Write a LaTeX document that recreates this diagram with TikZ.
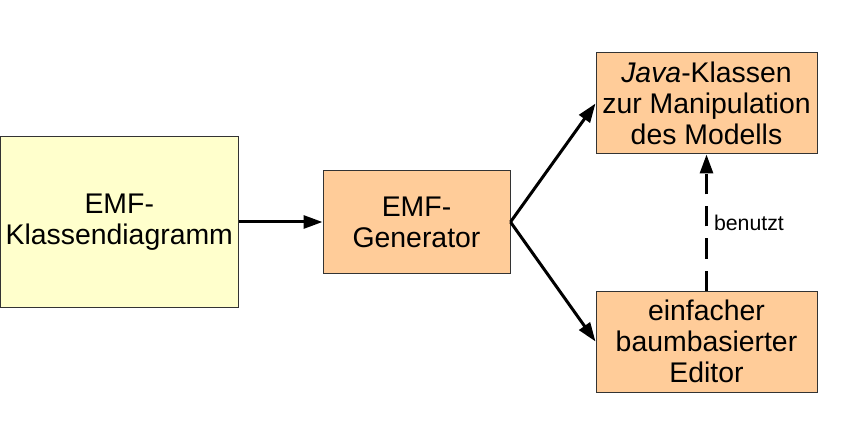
\documentclass[tikz,border=0pt]{standalone}
\usepackage{fontspec}
\setmainfont{Liberation Sans}
\usetikzlibrary{arrows.meta}
\definecolor{boxyellow}{HTML}{FFFFCC}
\definecolor{boxorange}{HTML}{FFCC99}
\definecolor{boxline}{HTML}{333333}
\begin{document}
\begin{tikzpicture}[x=1pt,y=-1pt,
  box/.style={draw=boxline,line width=1pt,inner sep=0pt,align=center,
    font=\fontsize{28.4}{31}\selectfont},
  conn/.style={line width=3pt,-{Triangle[length=19pt,width=13pt]}},
  lbl/.style={font=\fontsize{21.3}{24}\selectfont,inner sep=0pt}]
\useasboundingbox (0,0) rectangle (846,422);
\node[box,fill=boxyellow,minimum width=237.5pt,minimum height=170pt] (b1) at (119.25,222) {EMF-\\Klassendiagramm};
\node[box,fill=boxorange,minimum width=187pt,minimum height=102pt] (b2) at (416.5,222) {EMF-\\Generator};
\node[box,fill=boxorange,minimum width=221pt,minimum height=101pt] (b3) at (706.5,103.5) {\textit{Java}-Klassen\\zur Manipulation\\des Modells};
\node[box,fill=boxorange,minimum width=221pt,minimum height=101pt] (b4) at (706.5,341.5) {einfacher\\baumbasierter\\Editor};
\draw[conn] (b1.east) -- (b2.west);
\draw[conn] (b2.east) -- (b3.west);
\draw[conn] (b2.east) -- (b4.west);
\draw[conn,dash pattern=on 20pt off 12pt] (b4.north) -- node[lbl,anchor=west,xshift=6pt] (lab) {benutzt} (b3.south);
\end{tikzpicture}
\end{document}
